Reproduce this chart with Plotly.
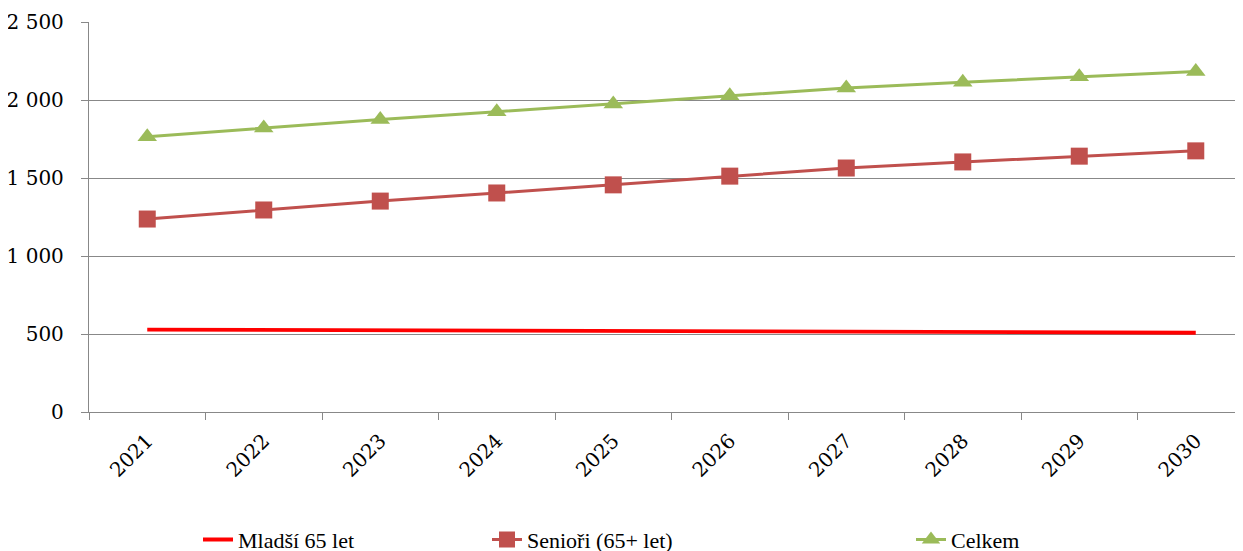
import plotly.graph_objects as go

# hodnoty
roky = ["2021", "2022", "2023", "2024", "2025", "2026", "2027", "2028", "2029", "2030"]
mladsi_65 = [528, 526, 523, 521, 519, 516, 513, 511, 509, 508]
seniori = [1237, 1295, 1352, 1404, 1456, 1512, 1564, 1603, 1640, 1674]
celkem = [1765, 1821, 1875, 1925, 1975, 2028, 2077, 2114, 2149, 2182]

font = "DejaVu Serif"
grid = "#888888"

fig = go.Figure()

fig.add_trace(go.Scatter(
    x=roky, y=mladsi_65, name="Mladší 65 let", mode="lines",
    line=dict(color="#FF0000", width=3.8), legend="legend",
))
fig.add_trace(go.Scatter(
    x=roky, y=seniori, name="Senioři (65+ let)", mode="lines+markers",
    line=dict(color="#C0504D", width=3),
    marker=dict(symbol="square", size=17, color="#C0504D"),
    legend="legend2",
))
fig.add_trace(go.Scatter(
    x=roky, y=celkem, name="Celkem", mode="lines+markers",
    line=dict(color="#9BBB59", width=3),
    marker=dict(symbol="triangle-up", size=17, color="#9BBB59"),
    legend="legend3",
))

# tři samostatné legendy, aby šly rozmístit jako v Excelu
leg = dict(
    orientation="h", xref="container", yref="container",
    yanchor="middle", y=0.035,
    font=dict(family="Liberation Serif", size=22, color="black"),
    bgcolor="rgba(0,0,0,0)",
)

# stránka má okraj 8 px, proto jsou okraje o 8 px menší
fig.update_layout(
    width=1243, height=551,
    margin=dict(l=81, r=0, t=14, b=147, autoexpand=False),
    paper_bgcolor="white", plot_bgcolor="white",
    font=dict(family=font, size=20, color="black"),
    separators=", ",
    showlegend=True,
    legend=dict(leg, x=190 / 1243),
    legend2=dict(leg, x=479 / 1243),
    legend3=dict(leg, x=903 / 1243),
    xaxis=dict(
        type="category", range=[-0.5, 9.474], tickson="boundaries",
        ticks="outside", ticklen=7, tickcolor=grid, tickwidth=1.3,
        showline=True, linecolor=grid, linewidth=1.3,
        showgrid=False, tickangle=-45, tickfont=dict(size=20),
        ticklabelstandoff=8, automargin=False,
    ),
    yaxis=dict(
        range=[0, 2500], dtick=500, separatethousands=True,
        ticks="outside", ticklen=7, tickcolor=grid, tickwidth=1.3,
        showline=True, linecolor=grid, linewidth=1.3,
        showgrid=True, gridcolor=grid, gridwidth=1.3,
        zeroline=False, ticklabelstandoff=13, tickfont=dict(size=20),
        automargin=False,
    ),
)

fig.write_html("out.html")
